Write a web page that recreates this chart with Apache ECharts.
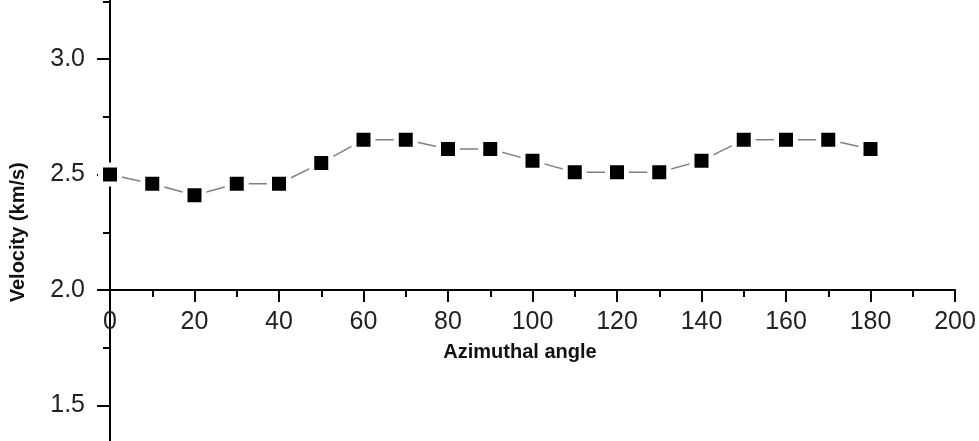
<!DOCTYPE html>
<html>
<head>
<meta charset="utf-8">
<script src="https://cdn.jsdelivr.net/npm/echarts@6/dist/echarts.min.js"></script>
<style>
html,body{margin:0;padding:0;background:#fff;}
#chart{width:979px;height:441px;}
</style>
</head>
<body>
<div id="chart"></div>
<script>
// Data
const angles = [0, 10, 20, 30, 40, 50, 60, 70, 80, 90, 100, 110, 120, 130, 140, 150, 160, 170, 180];
const velocity = [2.50, 2.46, 2.41, 2.46, 2.46, 2.55, 2.65, 2.65, 2.61, 2.61, 2.56, 2.51, 2.51, 2.51, 2.56, 2.65, 2.65, 2.65, 2.61];
const xTitle = 'Azimuthal angle';
const yTitle = 'Velocity (km/s)';

const FONT = '"Liberation Sans", Arial, sans-serif';
const chart = echarts.init(document.getElementById('chart'), null, {renderer: 'canvas'});

chart.setOption({
  backgroundColor: '#ffffff',
  animation: false,
  grid: { left: 110, right: 24, top: -56.5, bottom: -80, containLabel: false, outerBoundsMode: 'none' },
  title: {
    text: xTitle,
    left: 515, top: 337,
    textAlign: 'center',
    textStyle: { fontFamily: FONT, fontWeight: 'bold', fontSize: 20, color: '#111' }
  },
  xAxis: {
    type: 'value',
    min: 0, max: 200, interval: 20,
    position: 'bottom',
    offset: -231,
    axisLine: { show: true, onZero: false, lineStyle: { color: '#000', width: 2 } },
    axisTick: { show: true, length: 12, lineStyle: { color: '#000', width: 2 } },
    minorTick: { show: true, splitNumber: 2, length: 7, lineStyle: { color: '#000', width: 2 } },
    axisLabel: { margin: 20, fontFamily: FONT, fontSize: 25, color: '#222' },
    splitLine: { show: false },
    minorSplitLine: { show: false }
  },
  yAxis: {
    type: 'value',
    min: 1.0, max: 3.5, interval: 0.5,
    name: yTitle,
    nameLocation: 'middle',
    nameRotate: 90,
    nameGap: 82,
    nameTextStyle: { fontFamily: FONT, fontWeight: 'bold', fontSize: 20, color: '#111' },
    axisLine: { show: true, onZero: false, lineStyle: { color: '#000', width: 2 } },
    axisTick: { show: true, length: 13, lineStyle: { color: '#000', width: 2 } },
    minorTick: { show: true, splitNumber: 2, length: 7, lineStyle: { color: '#000', width: 2 } },
    axisLabel: {
      margin: 25, fontFamily: FONT, fontSize: 25, color: '#222',
      formatter: v => v.toFixed(1)
    },
    splitLine: { show: false },
    minorSplitLine: { show: false }
  },
  series: [{
    type: 'line',
    data: angles.map((a, i) => [a, velocity[i]]),
    symbol: 'rect',
    symbolSize: 19,
    lineStyle: { color: '#808080', width: 1.5 },
    itemStyle: { color: '#000', borderColor: '#fff', borderWidth: 5 },
    z: 3
  }]
});
</script>
</body>
</html>
